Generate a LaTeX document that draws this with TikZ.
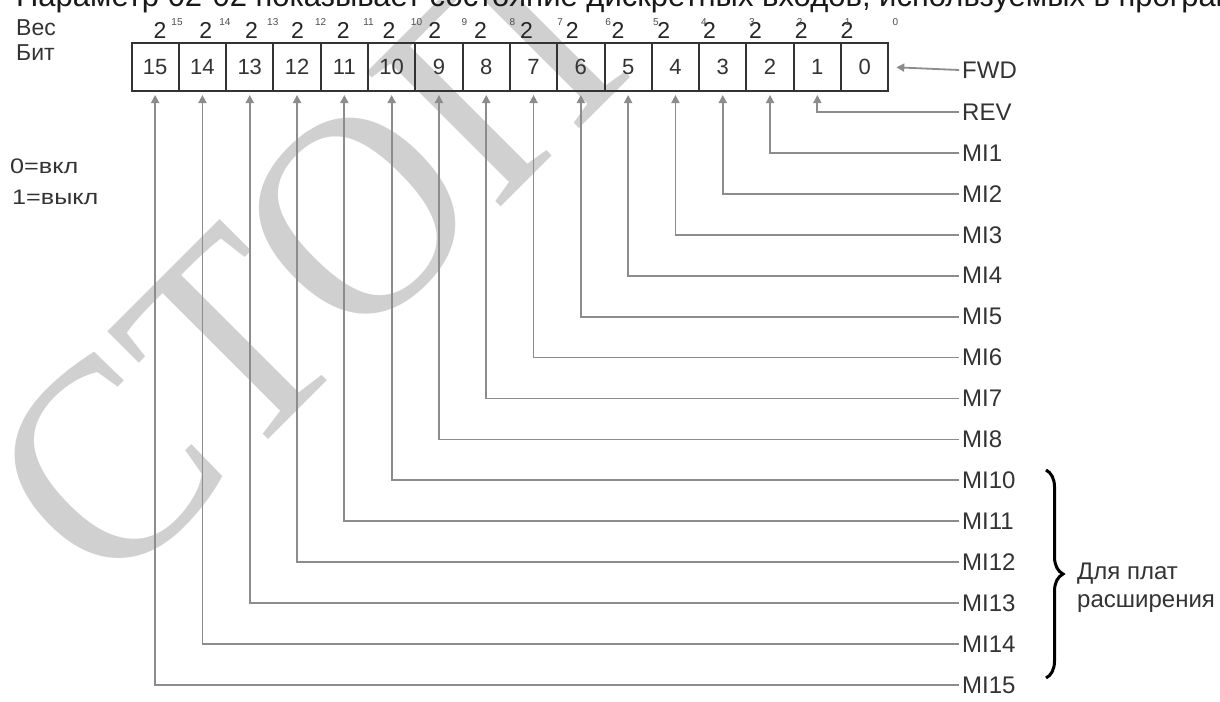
\documentclass[tikz,border=0pt]{standalone}
\usepackage{fontspec}
\setmainfont{Liberation Sans}
\newfontfamily\wmfont{Liberation Serif}
\usetikzlibrary{arrows.meta,decorations.pathreplacing}
\definecolor{conn}{HTML}{8C8C8C}
\definecolor{boxc}{HTML}{333333}
\definecolor{txt}{HTML}{333333}
\definecolor{wmc}{HTML}{D0D0D0}
\tikzset{
  cellbox/.style={draw=boxc, line width=2pt, minimum width=47.3pt, minimum height=48pt,
    inner sep=0pt, font=\fontsize{22}{22}\selectfont, text=txt},
  wire/.style={draw=conn, line width=1.8pt, -{Triangle[length=8pt,width=8pt]}, shorten >=3pt},
  lbl/.style={anchor=west, inner sep=3pt, font=\fontsize{24}{28}\selectfont, text=txt},
  side/.style={anchor=west, inner sep=0pt, font=\fontsize{23}{23}\selectfont, text=txt},
  wt/.style={inner sep=0pt, font=\fontsize{23}{23}\selectfont, text=black!85},
  ex/.style={inner sep=0pt, font=\fontsize{10}{10}\selectfont, text=black!70},
  bracestyle/.style={draw=black, line width=3pt, decorate, decoration={brace, amplitude=17pt}},
  wmark/.style={anchor=base west, rotate=45, inner sep=0pt, text=wmc,
    font=\wmfont\fontsize{290}{290}\selectfont},
  titlestyle/.style={anchor=base west, inner sep=0pt, font=\fontsize{31}{31}\selectfont, text=black!90}
}
\begin{document}
\begin{tikzpicture}[x=1pt,y=-1pt]
\useasboundingbox (0,0) rectangle (1220,701);
\fill[white] (0,0) rectangle (1220,701);
\clip (0,0) rectangle (1220,701);

% watermark
\node[wmark] (wm) at (108,600) {\scalebox{0.95}[1]{СТОП}};

% title (cut at top)
\node[titlestyle] (ttl) at (16,7) {Параметр 02-02 показывает состояние дискретных входов, используемых в программе};

% row labels
\node[side] (ves) at (16,28) {Вес};
\node[side] (bit) at (16,53) {Бит};
\node[side, font=\fontsize{21}{21}\selectfont] (on) at (10,166) {\scalebox{1.2}[1]{0=вкл}};
\node[side, font=\fontsize{21}{21}\selectfont] (off) at (12,197) {\scalebox{1.2}[1]{1=выкл}};

% cells, weights
\foreach \b in {0,...,15} {
  \node[cellbox] (c\b) at ({131.5+(15-\b)*47.3+23.65},67) {\b};
  \node[wt] (w\b) at ({160+45.8*(15-\b)},30) {2};
  \node[ex] (e\b) at ({177+47.9*(15-\b)},22) {\b};
}

% FWD
\node[lbl] (l0) at (959,70) {FWD};
\draw[wire, shorten >=7pt] (l0.west) -- (c0.east);

% other inputs
\foreach \b/\t in {1/REV,2/MI1,3/MI2,4/MI3,5/MI4,6/MI5,7/MI6,8/MI7,9/MI8,
                   10/MI10,11/MI11,12/MI12,13/MI13,14/MI14,15/MI15} {
  \node[lbl] (l\b) at (959,{112+40.93*(\b-1)}) {\t};
  \draw[wire] (l\b.west) -| (c\b.south);
}

% brace
\coordinate (bt) at (1046,470);
\coordinate (bb) at (1046,678);
\draw[bracestyle] (bt) -- (bb);
\node[lbl, align=left, inner sep=0pt] (ext) at (1077,588) {Для плат\\расширения};
\end{tikzpicture}
\end{document}
